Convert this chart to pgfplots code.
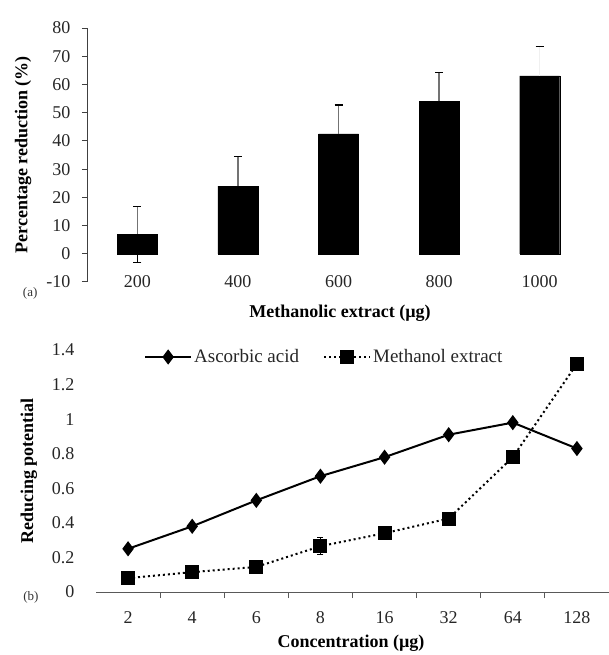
\documentclass[border=0pt]{standalone}
\usepackage{fontspec}
\setmainfont{Liberation Serif}
\usepackage{pgfplots}
\pgfplotsset{compat=1.18}
\begin{document}
\begin{tikzpicture}[x=1pt,y=1pt]
\path[use as bounding box] (0,0) rectangle (609,655);
% ---------------- (a) ----------------
\begin{axis}[
  at={(87pt,373pt)}, anchor=south west,
  scale only axis, width=503pt, height=254pt,
  xmin=-0.5, xmax=4.5, ymin=-10, ymax=80,
  clip=false,
  axis x line=bottom, axis y line=left,
  x axis line style={draw=none},
  y axis line style={-, black!75, line width=1pt},
  xtick={0,1,2,3,4}, xticklabels={200,400,600,800,1000},
  ytick={-10,0,10,20,30,40,50,60,70,80},
  xtick style={draw=none},
  ytick style={black!75, line width=1pt},
  tick align=outside, major tick length=5pt,
  /pgf/number format/assume math mode=true,
  tick label style={font=\fontsize{18}{21}\selectfont, text=black!85},
  xticklabel style={anchor=center, yshift=5pt},
  yticklabel style={anchor=east, xshift=-8pt},
  ylabel={\textbf{Percentage reduction (\%)}},
  ylabel style={at={(axis description cs:-0.127,0.5)}, anchor=center, font=\fontsize{18}{21}\selectfont},
  xlabel={\textbf{Methanolic extract (µg)}},
  xlabel style={at={(axis description cs:0.503,-0.122)}, anchor=center, font=\fontsize{18}{21}\selectfont},
]
\addplot[ybar, bar width=40pt, bar shift=0pt, fill=black, draw=black,
  error bars/.cd, y dir=minus, y explicit,
  error bar style={black, line width=1.3pt},
  error mark options={black, line width=1.3pt, mark size=4pt, rotate=90}]
  coordinates {(0,7) +- (0,10) (1,24) +- (0,10.5) (2,42.5) +- (0,10.3) (3,54) +- (0,10.3) (4,63) +- (0,10.3)};
\addplot[ybar, bar width=40pt, bar shift=0pt, draw=none, fill=none, forget plot,
  error bars/.cd, y dir=plus, y explicit,
  error bar style={black!55, line width=1.5pt},
  error mark options={black, line width=1.5pt, mark size=4pt, rotate=90}]
  coordinates {(0,7) +- (0,9.7) (1,24) +- (0,10.5) (2,42.5) +- (0,10.3) (3,54) +- (0,10.3)};
\addplot[ybar, bar width=40pt, bar shift=0pt, draw=none, fill=none, forget plot,
  error bars/.cd, y dir=plus, y explicit,
  error bar style={black!6, line width=1.5pt},
  error mark options={black, line width=1.5pt, mark size=4pt, rotate=90}]
  coordinates {(4,63) +- (0,10.4)};
\node[font=\fontsize{13}{15}\selectfont, text=black!80] at (axis description cs:-0.113,-0.043) {(a)};
\end{axis}
% ---------------- (b) ----------------
\begin{axis}[
  at={(96pt,63pt)}, anchor=south west,
  scale only axis, width=513pt, height=242pt,
  xmin=-0.5, xmax=7.5, ymin=0, ymax=1.4,
  clip=false,
  axis x line=bottom, axis y line=left,
  y axis line style={draw=none},
  x axis line style={-, black!65, line width=1pt},
  xtick={0,1,2,3,4,5,6,7}, xticklabels={2,4,6,8,16,32,64,128},
  ytick={0,0.2,0.4,0.6,0.8,1,1.2,1.4},
  minor x tick num=1,
  tick align=outside, major tick length=0pt, minor tick length=6pt,
  minor tick style={black!65, line width=1pt},
  /pgf/number format/assume math mode=true,
  tick label style={font=\fontsize{18}{21}\selectfont, text=black!85},
  xticklabel style={anchor=center, yshift=-26pt},
  yticklabel style={anchor=east, xshift=-18pt},
  ylabel={\textbf{Reducing potential}},
  ylabel style={at={(axis description cs:-0.131,0.5)}, anchor=center, font=\fontsize{18}{21}\selectfont},
  xlabel={\textbf{Concentration (µg)}},
  xlabel style={at={(axis description cs:0.497,-0.211)}, anchor=center, font=\fontsize{18}{21}\selectfont},
  legend columns=2,
  legend style={draw=none, fill=none, at={(axis description cs:0.445,0.971)}, anchor=center,
    font=\fontsize{19}{22}\selectfont, text=black!85,
    /tikz/every even column/.append style={column sep=22pt}},
  legend image code/.code={\draw[mark repeat=2,mark phase=2,#1] plot coordinates {(0pt,0pt) (23pt,0pt) (46pt,0pt)};},
]
\addplot[black, line width=2pt, mark=diamond*, mark size=6pt, mark options={solid}]
  coordinates {(0,0.25)(1,0.38)(2,0.53)(3,0.67)(4,0.78)(5,0.91)(6,0.98)(7,0.83)};
\addlegendentry{Ascorbic acid}
\addplot[black, line width=2pt, dash pattern=on 2pt off 3pt, mark=square*, mark size=6pt, mark options={solid}]
  coordinates {(0,0.08)(1,0.115)(2,0.145)(3,0.265)(4,0.34)(5,0.425)(6,0.78)(7,1.32)};
\addlegendentry{Methanol extract}
\addplot[draw=none, mark=none, forget plot,
  error bars/.cd, y dir=both, y explicit,
  error bar style={black, line width=1pt},
  error mark options={black, line width=1pt, mark size=3pt, rotate=90}]
  coordinates {(3,0.265) +- (0,0.05)};
\node[font=\fontsize{13}{15}\selectfont, text=black!80] at (axis description cs:-0.127,-0.021) {(b)};
\end{axis}
\end{tikzpicture}
\end{document}
